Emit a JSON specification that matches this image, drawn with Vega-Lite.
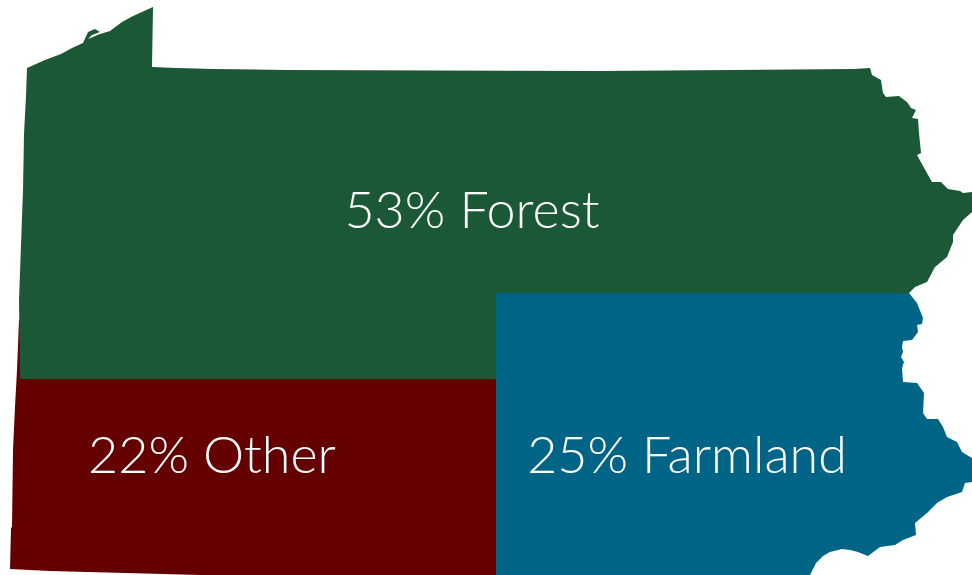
{"$schema":"https://vega.github.io/schema/vega-lite/v6.json","autosize":{"type":"fit","contains":"padding"},"width":972,"height":575,"padding":0,"background":"white","view":{"stroke":null},
"datasets":{"labels":[{"x":472,"y":212,"t":"53% Forest"},{"x":212,"y":457,"t":"22% Other"},{"x":687,"y":457,"t":"25% Farmland"}],
"shapes":[
{"land":"Other","i":1,"x":19,"y":320},{"land":"Other","i":2,"x":21,"y":320},{"land":"Other","i":3,"x":20,"y":379},{"land":"Other","i":4,"x":496,"y":379},{"land":"Other","i":5,"x":496,"y":575},{"land":"Other","i":6,"x":200,"y":575},{"land":"Other","i":7,"x":126,"y":573},{"land":"Other","i":8,"x":50,"y":571},{"land":"Other","i":9,"x":10,"y":569},{"land":"Other","i":10,"x":11,"y":528},{"land":"Other","i":11,"x":12,"y":527},{"land":"Other","i":12,"x":13,"y":450},{"land":"Other","i":13,"x":15,"y":407},{"land":"Other","i":14,"x":17,"y":370},
{"land":"Forest","i":1,"x":27,"y":68},{"land":"Forest","i":2,"x":45,"y":60},{"land":"Forest","i":3,"x":61,"y":54},{"land":"Forest","i":4,"x":72,"y":48},{"land":"Forest","i":5,"x":83,"y":43},{"land":"Forest","i":6,"x":88,"y":32},{"land":"Forest","i":7,"x":95,"y":29},{"land":"Forest","i":8,"x":100,"y":32},{"land":"Forest","i":9,"x":92,"y":35},{"land":"Forest","i":10,"x":88,"y":39},{"land":"Forest","i":11,"x":100,"y":34},{"land":"Forest","i":12,"x":110,"y":31},{"land":"Forest","i":13,"x":122,"y":22},{"land":"Forest","i":14,"x":133,"y":16},{"land":"Forest","i":15,"x":153,"y":7},{"land":"Forest","i":16,"x":152,"y":67},{"land":"Forest","i":17,"x":177,"y":68},{"land":"Forest","i":18,"x":213,"y":69},{"land":"Forest","i":19,"x":287,"y":70},{"land":"Forest","i":20,"x":600,"y":71},{"land":"Forest","i":21,"x":854,"y":69},{"land":"Forest","i":22,"x":870,"y":68},{"land":"Forest","i":23,"x":872,"y":75},{"land":"Forest","i":24,"x":881,"y":80},{"land":"Forest","i":25,"x":883,"y":93},{"land":"Forest","i":26,"x":886,"y":97},{"land":"Forest","i":27,"x":899,"y":96},{"land":"Forest","i":28,"x":907,"y":102},{"land":"Forest","i":29,"x":911,"y":108},{"land":"Forest","i":30,"x":916,"y":110},{"land":"Forest","i":31,"x":912,"y":118},{"land":"Forest","i":32,"x":918,"y":119},{"land":"Forest","i":33,"x":919,"y":133},{"land":"Forest","i":34,"x":921,"y":153},{"land":"Forest","i":35,"x":917,"y":155},{"land":"Forest","i":36,"x":928,"y":175},{"land":"Forest","i":37,"x":932,"y":182},{"land":"Forest","i":38,"x":941,"y":182},{"land":"Forest","i":39,"x":948,"y":189},{"land":"Forest","i":40,"x":960,"y":191},{"land":"Forest","i":41,"x":963,"y":193},{"land":"Forest","i":42,"x":972,"y":192},{"land":"Forest","i":43,"x":972,"y":212},{"land":"Forest","i":44,"x":963,"y":220},{"land":"Forest","i":45,"x":953,"y":235},{"land":"Forest","i":46,"x":953,"y":242},{"land":"Forest","i":47,"x":947,"y":257},{"land":"Forest","i":48,"x":935,"y":267},{"land":"Forest","i":49,"x":927,"y":282},{"land":"Forest","i":50,"x":915,"y":287},{"land":"Forest","i":51,"x":909,"y":293},{"land":"Forest","i":52,"x":496,"y":293},{"land":"Forest","i":53,"x":496,"y":379},{"land":"Forest","i":54,"x":20,"y":379},{"land":"Forest","i":55,"x":19,"y":300},{"land":"Forest","i":56,"x":23,"y":190},{"land":"Forest","i":57,"x":24,"y":134},{"land":"Forest","i":58,"x":26,"y":96},
{"land":"Farmland","i":1,"x":496,"y":293},{"land":"Farmland","i":2,"x":909,"y":293},{"land":"Farmland","i":3,"x":917,"y":303},{"land":"Farmland","i":4,"x":923,"y":318},{"land":"Farmland","i":5,"x":922,"y":324},{"land":"Farmland","i":6,"x":917,"y":325},{"land":"Farmland","i":7,"x":918,"y":332},{"land":"Farmland","i":8,"x":912,"y":340},{"land":"Farmland","i":9,"x":903,"y":341},{"land":"Farmland","i":10,"x":902,"y":347},{"land":"Farmland","i":11,"x":903,"y":352},{"land":"Farmland","i":12,"x":901,"y":357},{"land":"Farmland","i":13,"x":904,"y":362},{"land":"Farmland","i":14,"x":902,"y":368},{"land":"Farmland","i":15,"x":903,"y":382},{"land":"Farmland","i":16,"x":917,"y":383},{"land":"Farmland","i":17,"x":924,"y":393},{"land":"Farmland","i":18,"x":923,"y":413},{"land":"Farmland","i":19,"x":927,"y":419},{"land":"Farmland","i":20,"x":938,"y":419},{"land":"Farmland","i":21,"x":943,"y":427},{"land":"Farmland","i":22,"x":947,"y":437},{"land":"Farmland","i":23,"x":957,"y":442},{"land":"Farmland","i":24,"x":962,"y":452},{"land":"Farmland","i":25,"x":972,"y":458},{"land":"Farmland","i":26,"x":972,"y":482},{"land":"Farmland","i":27,"x":965,"y":483},{"land":"Farmland","i":28,"x":962,"y":492},{"land":"Farmland","i":29,"x":947,"y":497},{"land":"Farmland","i":30,"x":937,"y":503},{"land":"Farmland","i":31,"x":927,"y":513},{"land":"Farmland","i":32,"x":915,"y":523},{"land":"Farmland","i":33,"x":916,"y":535},{"land":"Farmland","i":34,"x":903,"y":540},{"land":"Farmland","i":35,"x":895,"y":545},{"land":"Farmland","i":36,"x":880,"y":547},{"land":"Farmland","i":37,"x":868,"y":556},{"land":"Farmland","i":38,"x":858,"y":552},{"land":"Farmland","i":39,"x":850,"y":550},{"land":"Farmland","i":40,"x":842,"y":549},{"land":"Farmland","i":41,"x":830,"y":552},{"land":"Farmland","i":42,"x":823,"y":556},{"land":"Farmland","i":43,"x":816,"y":563},{"land":"Farmland","i":44,"x":810,"y":575},{"land":"Farmland","i":45,"x":496,"y":575}
]},
"layer":[
{"data":{"name":"shapes"},"mark":{"type":"line","strokeWidth":0,"clip":true},"encoding":{
"x":{"field":"x","type":"quantitative","scale":{"domain":[0,972],"nice":false,"zero":false},"axis":null},
"y":{"field":"y","type":"quantitative","scale":{"domain":[575,0],"nice":false,"zero":false},"axis":null},
"order":{"field":"i","type":"quantitative"},
"detail":{"field":"land"},
"fill":{"field":"land","type":"nominal","legend":null,"scale":{"domain":["Forest","Farmland","Other"],"range":["#1B5835","#006487","#640000"]}}}},
{"data":{"name":"labels"},"mark":{"type":"text","font":"Lato","fontWeight":300,"fontSize":52,"color":"white","align":"center","baseline":"middle"},"encoding":{
"x":{"field":"x","type":"quantitative","scale":{"domain":[0,972],"nice":false,"zero":false},"axis":null},
"y":{"field":"y","type":"quantitative","scale":{"domain":[575,0],"nice":false,"zero":false},"axis":null},
"text":{"field":"t"}}}
]}
